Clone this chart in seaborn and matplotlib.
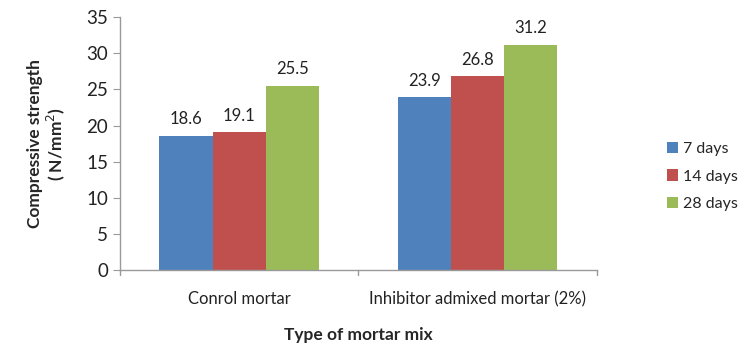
import matplotlib
matplotlib.use("Agg")
import matplotlib.pyplot as plt
import seaborn as sns
import pandas as pd

categories = ["Conrol mortar", "Inhibitor admixed mortar (2%)"]
ages = ["7 days", "14 days", "28 days"]
strength_7 = [18.6, 23.9]
strength_14 = [19.1, 26.8]
strength_28 = [25.5, 31.2]
colors = ["#4F81BD", "#C0504D", "#9BBB59"]

rows = []
for age, vals in zip(ages, [strength_7, strength_14, strength_28]):
    for cat, v in zip(categories, vals):
        rows.append({"mix": cat, "age": age, "strength": v})
df = pd.DataFrame(rows)

sns.set_style("white")
plt.rcParams["font.family"] = ["Lato", "DejaVu Sans"]

fig = plt.figure(figsize=(7.45, 3.49), dpi=100)
ax = fig.add_axes([0.161, 0.226, 0.640, 0.725])

sns.barplot(data=df, x="mix", y="strength", hue="age", hue_order=ages,
            palette=colors, width=0.67, gap=0, saturation=1,
            errorbar=None, ax=ax, edgecolor="none")

for cont in ax.containers:
    ax.bar_label(cont, fmt="%.1f", padding=6, fontsize=12, color="#222222")

ax.set_ylim(0, 35)
ax.set_yticks(range(0, 36, 5))
ax.set_xlim(-0.5, 1.5)
ax.set_xticks([0, 1])
ax.set_xticklabels(categories, fontsize=12)
ax.tick_params(axis="x", length=0, pad=15, colors="#222222")
ax.tick_params(axis="y", labelsize=13.5, length=5, color="#999999", colors="#222222", left=True)
for s in ["top", "right"]:
    ax.spines[s].set_visible(False)
for s in ["left", "bottom"]:
    ax.spines[s].set_color("#999999")
    ax.spines[s].set_linewidth(1)

# category boundary ticks along the bottom axis
for xb in [-0.5, 0.5, 1.5]:
    ax.plot([xb, xb], [0, -0.02], transform=ax.get_xaxis_transform(),
            color="#999999", lw=1, clip_on=False)

ax.set_xlabel("Type of mortar mix", fontsize=12.5, fontweight="bold", labelpad=14)
ax.set_ylabel("Compressive strength\n( N/mm$^2$)", fontsize=12.5, fontweight="bold",
              labelpad=14, linespacing=1.05)

leg = ax.legend(loc="center left", bbox_to_anchor=(1.133, 0.37), frameon=False,
                fontsize=11.5, handlelength=0.7, handleheight=0.7, handletextpad=0.35,
                labelspacing=0.85, borderaxespad=0)

fig.savefig("out.png", dpi=100)
